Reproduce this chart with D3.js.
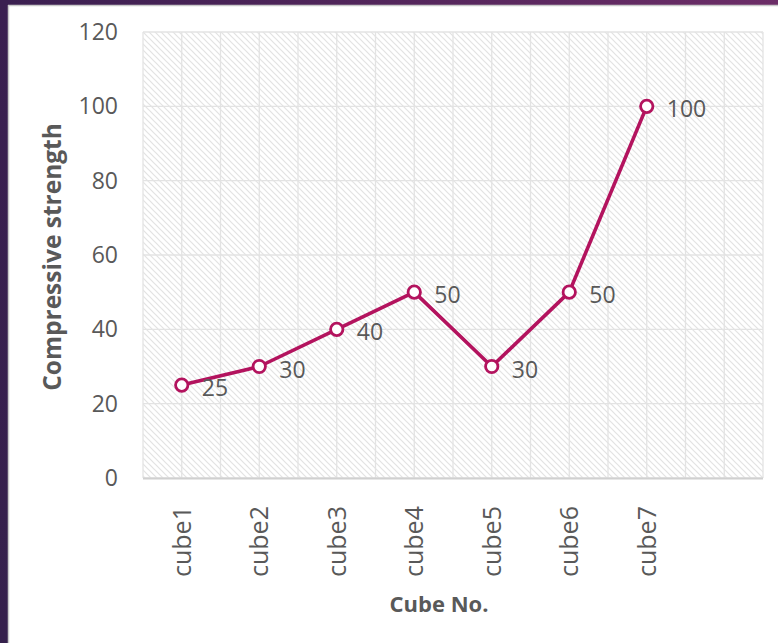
<!DOCTYPE html>
<html>
<head>
<meta charset="utf-8">
<script src="https://cdn.jsdelivr.net/npm/d3@7/dist/d3.min.js"></script>
<style>
  html, body { margin: 0; padding: 0; background: #fff; }
  svg { display: block; }
  text { font-family: "Open Sans", "Noto Sans", sans-serif; fill: #595959; }
</style>
</head>
<body>
<svg id="chart" width="778" height="643"></svg>
<script>
// Categories on the x axis (last slot is left empty)
const categories = ["cube1", "cube2", "cube3", "cube4", "cube5", "cube6", "cube7", ""];
// Compressive strength per cube
const strength = [25, 30, 40, 50, 30, 50, 100];
// Y axis ticks
const yTicks = [0, 20, 40, 60, 80, 100, 120];

const W = 778, H = 643;
const margin = { left: 143, right: 15, top: 32, bottom: 165 };
const plotW = W - margin.left - margin.right;
const plotH = H - margin.top - margin.bottom;
const lineColor = "#b3135e";

const svg = d3.select("#chart");
const defs = svg.append("defs");

// Frame gradients
const gTop = defs.append("linearGradient").attr("id", "frameTop").attr("x1", "0").attr("x2", "1");
gTop.append("stop").attr("offset", "0").attr("stop-color", "#3a1f50");
gTop.append("stop").attr("offset", "1").attr("stop-color", "#6c2d67");
const gLeft = defs.append("linearGradient").attr("id", "frameLeft").attr("x1", "0").attr("x2", "0").attr("y1", "0").attr("y2", "1");
gLeft.append("stop").attr("offset", "0").attr("stop-color", "#3a1f50");
gLeft.append("stop").attr("offset", "1").attr("stop-color", "#35204c");

// Diagonal hatch fill for the plot area
const hatch = defs.append("pattern")
  .attr("id", "hatch").attr("patternUnits", "userSpaceOnUse")
  .attr("width", 6).attr("height", 6);
hatch.append("rect").attr("width", 6).attr("height", 6).attr("fill", "#ffffff");
hatch.append("path").attr("d", "M-1,-1 L7,7 M-4,2 L2,8 M4,-2 L8,2")
  .attr("stroke", "#e3e3e3").attr("stroke-width", 1.2);

// Dark frame on the top and left edges
svg.append("rect").attr("x", 0).attr("y", 0).attr("width", W).attr("height", H).attr("fill", "#ffffff");
svg.append("rect").attr("x", 0).attr("y", 0).attr("width", W).attr("height", 5).attr("fill", "url(#frameTop)");
svg.append("rect").attr("x", 0).attr("y", 0).attr("width", 8).attr("height", H).attr("fill", "url(#frameLeft)");
svg.append("line").attr("x1", 8.5).attr("x2", 8.5).attr("y1", 5).attr("y2", H).attr("stroke", "#c9c9c9").attr("stroke-width", 1.5);
svg.append("line").attr("x1", 8).attr("x2", W).attr("y1", 5.5).attr("y2", 5.5).attr("stroke", "#c9c9c9").attr("stroke-width", 1.5);

const g = svg.append("g").attr("transform", `translate(${margin.left},${margin.top})`);

const x = d3.scaleBand().domain(categories.map((c, i) => i)).range([0, plotW]).paddingInner(0).paddingOuter(0);
const y = d3.scaleLinear().domain([0, 120]).range([plotH, 0]);

// Plot background
g.append("rect").attr("width", plotW).attr("height", plotH).attr("fill", "url(#hatch)");

// Vertical gridlines at category edges and centres
const vLines = [];
categories.forEach((c, i) => { vLines.push(x(i)); vLines.push(x(i) + x.bandwidth() / 2); });
vLines.push(plotW);
g.append("g").selectAll("line").data(vLines).join("line")
  .attr("x1", d => d).attr("x2", d => d).attr("y1", 0).attr("y2", plotH)
  .attr("stroke", "#e3e3e3").attr("stroke-width", 1.3);

// Horizontal gridlines
g.append("g").selectAll("line").data(yTicks).join("line")
  .attr("x1", 0).attr("x2", plotW).attr("y1", d => y(d)).attr("y2", d => y(d))
  .attr("stroke", "#e3e3e3").attr("stroke-width", 1.3);

// Category axis line
g.append("line").attr("x1", 0).attr("x2", plotW).attr("y1", plotH + 0.5).attr("y2", plotH + 0.5)
  .attr("stroke", "#d0d0d0").attr("stroke-width", 2);

// Y axis labels
const yAxis = d3.axisLeft(y).tickValues(yTicks).tickSize(0).tickPadding(25);
const ya = g.append("g").call(yAxis);
ya.select(".domain").remove();
ya.selectAll("text").attr("font-size", 23).attr("fill", "#5f5f5f")
  .style("font-family", '"Open Sans", sans-serif');

// X axis labels, rotated, starting at a common line below the axis
const xAxis = d3.axisBottom(x).tickFormat(i => categories[i]).tickSize(0);
const xa = g.append("g").attr("transform", `translate(0,${plotH})`).call(xAxis);
xa.select(".domain").remove();
xa.selectAll("text")
  .attr("font-size", 25).attr("fill", "#5f5f5f")
  .style("font-family", '"Open Sans", sans-serif')
  .attr("text-anchor", "start")
  .attr("transform", "rotate(-90)")
  .attr("x", -99)
  .attr("y", 0).attr("dy", "0.36em");

// Series line
g.append("path").datum(strength)
  .attr("d", d3.line().x((d, i) => x(i) + x.bandwidth() / 2).y(d => y(d)))
  .attr("fill", "none").attr("stroke", lineColor).attr("stroke-width", 3.6)
  .attr("stroke-linejoin", "round");

// Markers
g.append("g").selectAll("circle").data(strength).join("circle")
  .attr("cx", (d, i) => x(i) + x.bandwidth() / 2).attr("cy", d => y(d)).attr("r", 6.2)
  .attr("fill", "#ffffff").attr("stroke", lineColor).attr("stroke-width", 2.8);

// Value labels to the right of each point
g.append("g").selectAll("text").data(strength).join("text")
  .attr("x", (d, i) => x(i) + x.bandwidth() / 2 + 20)
  .attr("y", d => y(d) + 3).attr("dy", "0.35em")
  .attr("font-size", 23).attr("fill", "#5f5f5f").text(d => d);

// Axis titles
svg.append("text")
  .attr("transform", `translate(61,${margin.top + plotH / 2 + 2}) rotate(-90)`)
  .attr("text-anchor", "middle").attr("font-size", 24.5).attr("font-weight", "bold")
  .text("Compressive strength");
svg.append("text")
  .attr("x", margin.left + plotW / 2 - 14).attr("y", 612)
  .attr("text-anchor", "middle").attr("font-size", 22).attr("font-weight", "bold")
  .text("Cube No.");
</script>
</body>
</html>
